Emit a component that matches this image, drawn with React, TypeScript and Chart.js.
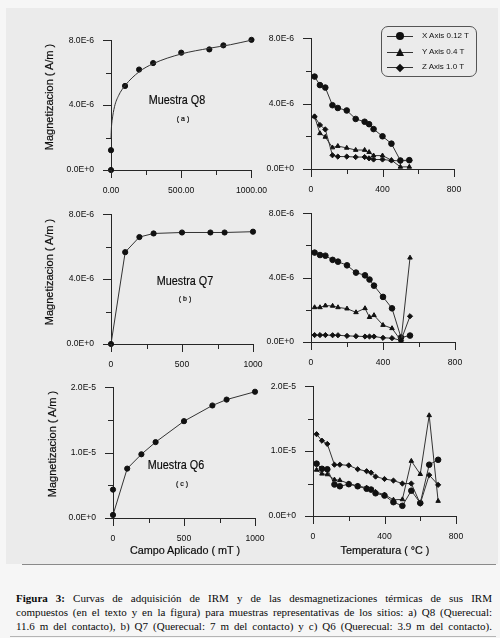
import React, { useEffect, useRef } from "react";
import { Chart, registerables } from "chart.js";

Chart.register(...registerables);

// ---------- DATA ----------
// IRM acquisition, Q8
const fieldQ8 = [0, 0, 100, 200, 300, 500, 700, 800, 1000];
const magQ8 = [0, 1.22e-6, 5.18e-6, 6.19e-6, 6.59e-6, 7.23e-6, 7.43e-6, 7.68e-6, 8.02e-6];
// fitted curve drawn through Q8
const fitFieldQ8 = [0, 3, 8, 25, 55, 100, 200, 300, 500, 700, 850, 1000];
const fitMagQ8 = [1.95e-6, 2.6e-6, 3.05e-6, 3.9e-6, 4.6e-6, 5.2e-6, 6.05e-6, 6.55e-6, 7.15e-6, 7.5e-6, 7.72e-6, 8.0e-6];

// IRM acquisition, Q7
const fieldQ7 = [0, 100, 200, 300, 500, 700, 800, 1000];
const magQ7 = [0, 5.66e-6, 6.59e-6, 6.81e-6, 6.87e-6, 6.87e-6, 6.87e-6, 6.92e-6];

// IRM acquisition, Q6
const fieldQ6Nrm = [0];
const magQ6Nrm = [4.34e-6];
const fieldQ6 = [0, 100, 200, 300, 500, 700, 800, 1000];
const magQ6 = [0.47e-6, 7.55e-6, 9.74e-6, 1.16e-5, 1.48e-5, 1.72e-5, 1.81e-5, 1.93e-5];

// Thermal demagnetization, Q8
const tempQ8 = [20, 50, 80, 120, 150, 200, 250, 300, 325, 350, 400, 450, 500, 550];
const xAxisQ8 = [5.65e-6, 5.13e-6, 4.98e-6, 3.9e-6, 3.73e-6, 3.58e-6, 3.06e-6, 2.89e-6, 2.74e-6, 2.44e-6, 2.0e-6, 1.55e-6, 0.52e-6, 0.54e-6];
const yAxisQ8 = [3.21e-6, 2.18e-6, 1.96e-6, 1.31e-6, 1.4e-6, 1.29e-6, 1.16e-6, 1.16e-6, 1.03e-6, 0.82e-6, 0.82e-6, 0.54e-6, 0.13e-6, 0.13e-6];
const zAxisQ8 = [3.21e-6, 2.69e-6, 2.42e-6, 0.84e-6, 0.76e-6, 0.76e-6, 0.73e-6, 0.73e-6, 0.65e-6, 0.58e-6, 0.58e-6, 0.52e-6, 0.5e-6, 0.52e-6];

// Thermal demagnetization, Q7
const tempQ7 = [20, 50, 80, 120, 150, 200, 250, 300, 325, 350, 400, 450, 500, 550];
const xAxisQ7 = [5.55e-6, 5.4e-6, 5.36e-6, 5.1e-6, 4.99e-6, 4.76e-6, 4.31e-6, 4.14e-6, 3.88e-6, 3.5e-6, 2.8e-6, 2.09e-6, 0.28e-6, 0.4e-6];
const yAxisQ7 = [2.15e-6, 2.15e-6, 2.26e-6, 2.24e-6, 2.15e-6, 2.07e-6, 1.84e-6, 2.09e-6, 1.54e-6, 1.66e-6, 1.05e-6, 0.85e-6, 0.08e-6, 5.23e-6];
const zAxisQ7 = [0.43e-6, 0.43e-6, 0.43e-6, 0.42e-6, 0.42e-6, 0.38e-6, 0.36e-6, 0.34e-6, 0.34e-6, 0.34e-6, 0.26e-6, 0.24e-6, 0.1e-6, 1.6e-6];

// Thermal demagnetization, Q6
const tempQ6 = [20, 50, 80, 120, 150, 200, 250, 300, 325, 350, 400, 450, 500, 550, 600, 650, 700];
const xAxisQ6 = [8.06e-6, 7.27e-6, 7.2e-6, 4.86e-6, 4.58e-6, 4.9e-6, 4.58e-6, 4.2e-6, 4.07e-6, 3.5e-6, 3.15e-6, 2.13e-6, 1.57e-6, 3.9e-6, 2.0e-6, 7.9e-6, 8.66e-6];
const yAxisQ6 = [7.1e-6, 6.5e-6, 6.4e-6, 5.6e-6, 5.5e-6, 5.0e-6, 4.63e-6, 4.35e-6, 4.07e-6, 3.7e-6, 3.29e-6, 2.5e-6, 2.55e-6, 8.47e-6, 6.44e-6, 1.55e-5, 2.3e-6];
const zAxisQ6 = [1.26e-5, 1.16e-5, 1.11e-5, 7.9e-6, 7.9e-6, 7.8e-6, 7.2e-6, 6.9e-6, 6.67e-6, 6.07e-6, 5.7e-6, 5.46e-6, 5.0e-6, 5.0e-6, 1.9e-6, 6.3e-6, 4.8e-6];

// Tick values
const fieldMajor = [0, 500, 1000];
const fieldMinor = [250, 750];
const tempMajor = [0, 400, 800];
const tempMinor = [200, 600];
const mag8Major = [0, 4e-6, 8e-6];
const mag8Minor = [2e-6, 6e-6];
const mag20Major = [0, 1e-5, 2e-5];
const mag20Minor = [0.5e-5, 1.5e-5];

const legendLabels = ["X Axis 0.12 T", "Y Axis 0.4 T", "Z Axis 1.0 T"];

// ---------- STYLE ----------
const AXIS = "#262626";
const LINE = "#333333";
const DOT = "#111111";
const SANS = "'Liberation Sans', Arial, sans-serif";
const SERIF = "'Liberation Serif', 'Times New Roman', serif";

const PAD_L = 64;
const PAD_T = 10;
const PAD_R = 30;
const PAD_B = 32;

const expFmt = (v: number) => v.toExponential(1).toUpperCase();

const pts = (xs: number[], ys: number[]) => xs.map((x, i) => ({ x, y: ys[i] }));

const marker = (style: string, r: number) => ({
  pointStyle: style,
  pointRadius: r,
  pointBackgroundColor: DOT,
  pointBorderColor: DOT,
  pointBorderWidth: 1,
  borderColor: LINE,
  borderWidth: 1,
  showLine: true,
  clip: false as any,
  tension: 0,
});

const tickPlugin = {
  id: "manualTicks",
  afterDraw(chart: any, _args: any, opts: any) {
    const { ctx, chartArea, scales } = chart;
    const xs = scales.x;
    const ys = scales.y;
    ctx.save();
    ctx.strokeStyle = AXIS;
    ctx.lineWidth = 1;
    ctx.beginPath();
    const drawX = (vals: number[], len: number) =>
      vals.forEach((v) => {
        const p = Math.round(xs.getPixelForValue(v)) + 0.5;
        ctx.moveTo(p, chartArea.bottom);
        ctx.lineTo(p, chartArea.bottom + len);
      });
    const drawY = (vals: number[], len: number) =>
      vals.forEach((v) => {
        const p = Math.round(ys.getPixelForValue(v)) + 0.5;
        ctx.moveTo(chartArea.left - len, p);
        ctx.lineTo(chartArea.left, p);
      });
    drawX(opts.xMajor, 8);
    drawX(opts.xMinor, 5);
    drawY(opts.yMajor, 8);
    drawY(opts.yMinor, 5);
    ctx.stroke();
    ctx.restore();
  },
};

type PanelSpec = {
  plotLeft: number;
  plotTop: number;
  plotW: number;
  plotH: number;
  xMax: number;
  xMajor: number[];
  xMinor: number[];
  xFmt: (v: number) => string;
  yMax: number;
  yMajor: number[];
  yMinor: number[];
  datasets: any[];
};

function ChartPanel({ spec }: { spec: PanelSpec }) {
  const ref = useRef<HTMLCanvasElement>(null);
  const width = PAD_L + spec.plotW + PAD_R;
  const height = PAD_T + spec.plotH + PAD_B;
  useEffect(() => {
    const canvas = ref.current!;
    const tickFont = { family: SANS, size: 8.6 };
    const chart = new Chart(canvas, {
      type: "scatter",
      data: { datasets: spec.datasets },
      options: {
        responsive: false,
        animation: false,
        events: [],
        layout: { padding: { top: PAD_T, right: PAD_R, left: 0, bottom: 0 } },
        plugins: {
          legend: { display: false },
          tooltip: { enabled: false },
          manualTicks: {
            xMajor: spec.xMajor,
            xMinor: spec.xMinor,
            yMajor: spec.yMajor,
            yMinor: spec.yMinor,
          },
        } as any,
        scales: {
          x: {
            type: "linear",
            min: 0,
            max: spec.xMax,
            afterBuildTicks: (s: any) => {
              s.ticks = [...spec.xMajor, ...spec.xMinor].sort((a, b) => a - b).map((v) => ({ value: v }));
            },
            afterFit: (s: any) => {
              s.height = PAD_B;
            },
            grid: { display: true, drawOnChartArea: false, drawTicks: false },
            border: { display: true, color: AXIS, width: 1 },
            ticks: {
              callback: (v: any) => (spec.xMajor.includes(v) ? spec.xFmt(v) : ""),
              maxRotation: 0,
              minRotation: 0,
              autoSkip: false,
              padding: 15,
              color: "#0c0c0c",
              font: tickFont,
            },
          },
          y: {
            type: "linear",
            min: 0,
            max: spec.yMax,
            afterBuildTicks: (s: any) => {
              s.ticks = [...spec.yMajor, ...spec.yMinor].sort((a, b) => a - b).map((v) => ({ value: v }));
            },
            afterFit: (s: any) => {
              s.width = PAD_L;
            },
            grid: { display: true, drawOnChartArea: false, drawTicks: false },
            border: { display: true, color: AXIS, width: 1 },
            ticks: {
              callback: (v: any) => (spec.yMajor.includes(v) ? expFmt(v) : ""),
              autoSkip: false,
              padding: 17,
              color: "#0c0c0c",
              font: tickFont,
            },
          },
        },
      },
      plugins: [tickPlugin],
    } as any);
    return () => chart.destroy();
  }, []);
  return (
    <canvas
      ref={ref}
      width={width}
      height={height}
      style={{
        position: "absolute",
        left: spec.plotLeft - PAD_L,
        top: spec.plotTop - PAD_T,
        width,
        height,
      }}
    />
  );
}

const xyzSets = (t: number[], xs: number[], ys: number[], zs: number[]) => [
  { data: pts(t, zs), ...marker("rectRot", 2.6) },
  { data: pts(t, ys), ...marker("triangle", 2.6) },
  { data: pts(t, xs), ...marker("circle", 2.8) },
];

const panels: PanelSpec[] = [
  {
    plotLeft: 111, plotTop: 28, plotW: 141, plotH: 142,
    xMax: 1000, xMajor: fieldMajor, xMinor: fieldMinor, xFmt: (v) => v.toFixed(2),
    yMax: 8e-6, yMajor: mag8Major, yMinor: mag8Minor,
    datasets: [
      { data: pts(fitFieldQ8, fitMagQ8), ...marker("circle", 0), cubicInterpolationMode: "monotone" },
      { data: pts(fieldQ8, magQ8), ...marker("circle", 2.6), showLine: false },
    ],
  },
  {
    plotLeft: 311, plotTop: 26, plotW: 143, plotH: 143,
    xMax: 800, xMajor: tempMajor, xMinor: tempMinor, xFmt: (v) => String(v),
    yMax: 8e-6, yMajor: mag8Major, yMinor: mag8Minor,
    datasets: xyzSets(tempQ8, xAxisQ8, yAxisQ8, zAxisQ8),
  },
  {
    plotLeft: 111, plotTop: 202, plotW: 142, plotH: 142,
    xMax: 1000, xMajor: fieldMajor, xMinor: fieldMinor, xFmt: (v) => String(v),
    yMax: 8e-6, yMajor: mag8Major, yMinor: mag8Minor,
    datasets: [{ data: pts(fieldQ7, magQ7), ...marker("circle", 2.6) }],
  },
  {
    plotLeft: 311, plotTop: 201, plotW: 144, plotH: 141,
    xMax: 800, xMajor: tempMajor, xMinor: tempMinor, xFmt: (v) => String(v),
    yMax: 8e-6, yMajor: mag8Major, yMinor: mag8Minor,
    datasets: xyzSets(tempQ7, xAxisQ7, yAxisQ7, zAxisQ7),
  },
  {
    plotLeft: 113, plotTop: 375, plotW: 142, plotH: 143,
    xMax: 1000, xMajor: fieldMajor, xMinor: fieldMinor, xFmt: (v) => String(v),
    yMax: 2e-5, yMajor: mag20Major, yMinor: mag20Minor,
    datasets: [
      { data: pts(fieldQ6Nrm, magQ6Nrm), ...marker("circle", 2.6), showLine: false },
      { data: pts(fieldQ6, magQ6), ...marker("circle", 2.6) },
    ],
  },
  {
    plotLeft: 313, plotTop: 374, plotW: 143, plotH: 142,
    xMax: 800, xMajor: tempMajor, xMinor: tempMinor, xFmt: (v) => String(v),
    yMax: 2e-5, yMajor: mag20Major, yMinor: mag20Minor,
    datasets: xyzSets(tempQ6, xAxisQ6, yAxisQ6, zAxisQ6),
  },
];

function Label({ x, y, text, size, rotate, scaleX, family, spacing }: any) {
  return (
    <div
      style={{
        position: "absolute",
        left: x,
        top: y,
        transform: `translate(-50%, -50%)${rotate ? ` rotate(${rotate}deg)` : ""}${scaleX ? ` scaleX(${scaleX})` : ""}`,
        fontFamily: family || SANS,
        fontSize: size,
        lineHeight: 1,
        whiteSpace: "pre",
        color: "#0c0c0c",
        letterSpacing: spacing || 0,
        WebkitTextStroke: "0.2px #0c0c0c",
      }}
    >
      {text}
    </div>
  );
}

function LegendMarker({ kind }: { kind: number }) {
  if (kind === 0)
    return <div style={{ position: "absolute", left: -4, top: -4, width: 8, height: 8, borderRadius: 4, background: DOT }} />;
  if (kind === 1)
    return (
      <div
        style={{
          position: "absolute", left: -4.5, top: -5, width: 0, height: 0,
          borderLeft: "4.5px solid transparent", borderRight: "4.5px solid transparent", borderBottom: "8px solid " + DOT,
        }}
      />
    );
  return <div style={{ position: "absolute", left: -3, top: -3, width: 6, height: 6, background: DOT, transform: "rotate(45deg)" }} />;
}

function Legend() {
  const rows = [8.5, 25, 40];
  return (
    <div
      style={{
        position: "absolute", left: 381, top: 26, width: 94, height: 49,
        border: "1px solid #555", borderRadius: 7,
      }}
    >
      {legendLabels.map((t, i) => (
        <React.Fragment key={t}>
          <div style={{ position: "absolute", left: 5, top: rows[i], width: 26, height: 0, borderTop: "1px solid " + LINE }} />
          <div style={{ position: "absolute", left: 18, top: rows[i] + 0.5 }}>
            <LegendMarker kind={i} />
          </div>
          <div
            style={{
              position: "absolute", left: 40, top: rows[i] - 5, fontFamily: SANS, fontSize: 8,
              lineHeight: "10px", color: "#111", whiteSpace: "pre",
            }}
          >
            {t}
          </div>
        </React.Fragment>
      ))}
    </div>
  );
}

const captionLines = [
  [<b key="b">Figura 3:</b>, " Curvas de adquisición de IRM y de las desmagnetizaciones térmicas de sus IRM"],
  ["compuestos (en el texto y en la figura) para muestras representativas de los sitios: a) Q8 (Querecual:"],
  ["11.6 m del contacto), b) Q7 (Querecual: 7 m del contacto) y c) Q6 (Querecual: 3.9 m del contacto)."],
];

export default function App() {
  return (
    <div style={{ position: "absolute", left: 0, top: 0, width: 500, height: 638, background: "#f6f6f6", overflow: "hidden" }}>
      <div style={{ position: "absolute", left: 6, top: 8, width: 492, height: 556, background: "#ebebeb" }} />
      <div style={{ position: "absolute", left: 22, top: 564, width: 474, height: 0, borderTop: "1px solid #8a8a8a" }} />
      <div style={{ position: "absolute", left: 10, top: 636, width: 486, height: 0, borderTop: "1px solid #b5b5b5" }} />

      {panels.map((p, i) => (
        <ChartPanel key={i} spec={p} />
      ))}

      <Legend />

      <Label x={49} y={97} text="Magnetizacion ( A/m )" size={11} rotate={-90} />
      <Label x={49} y={272} text="Magnetizacion ( A/m )" size={11} rotate={-90} />
      <Label x={52} y={444} text="Magnetizacion ( A/m )" size={11} rotate={-90} />

      <Label x={177} y={100} text="Muestra Q8" size={13.5} scaleX={0.8} />
      <Label x={183} y={118} text="( a )" size={7} />
      <Label x={185} y={281} text="Muestra Q7" size={13.5} scaleX={0.8} />
      <Label x={185} y={298} text="( b )" size={7} />
      <Label x={176} y={465} text="Muestra Q6" size={13.5} scaleX={0.8} />
      <Label x={182} y={483} text="( c )" size={7} />

      <Label x={185} y={550} text="Campo Aplicado ( mT )" size={10.8} />
      <Label x={385} y={550} text="Temperatura ( °C )" size={10.8} />

      <div
        style={{
          position: "absolute", left: 16, top: 591, width: 476,
          fontFamily: SERIF, fontSize: 11, lineHeight: "14px", color: "#0a0a0a",
        }}
      >
        {captionLines.map((l, i) => (
          <div key={i} style={{ textAlign: "justify", textAlignLast: "justify" as any, whiteSpace: "normal" }}>
            {l}
          </div>
        ))}
      </div>
    </div>
  );
}
